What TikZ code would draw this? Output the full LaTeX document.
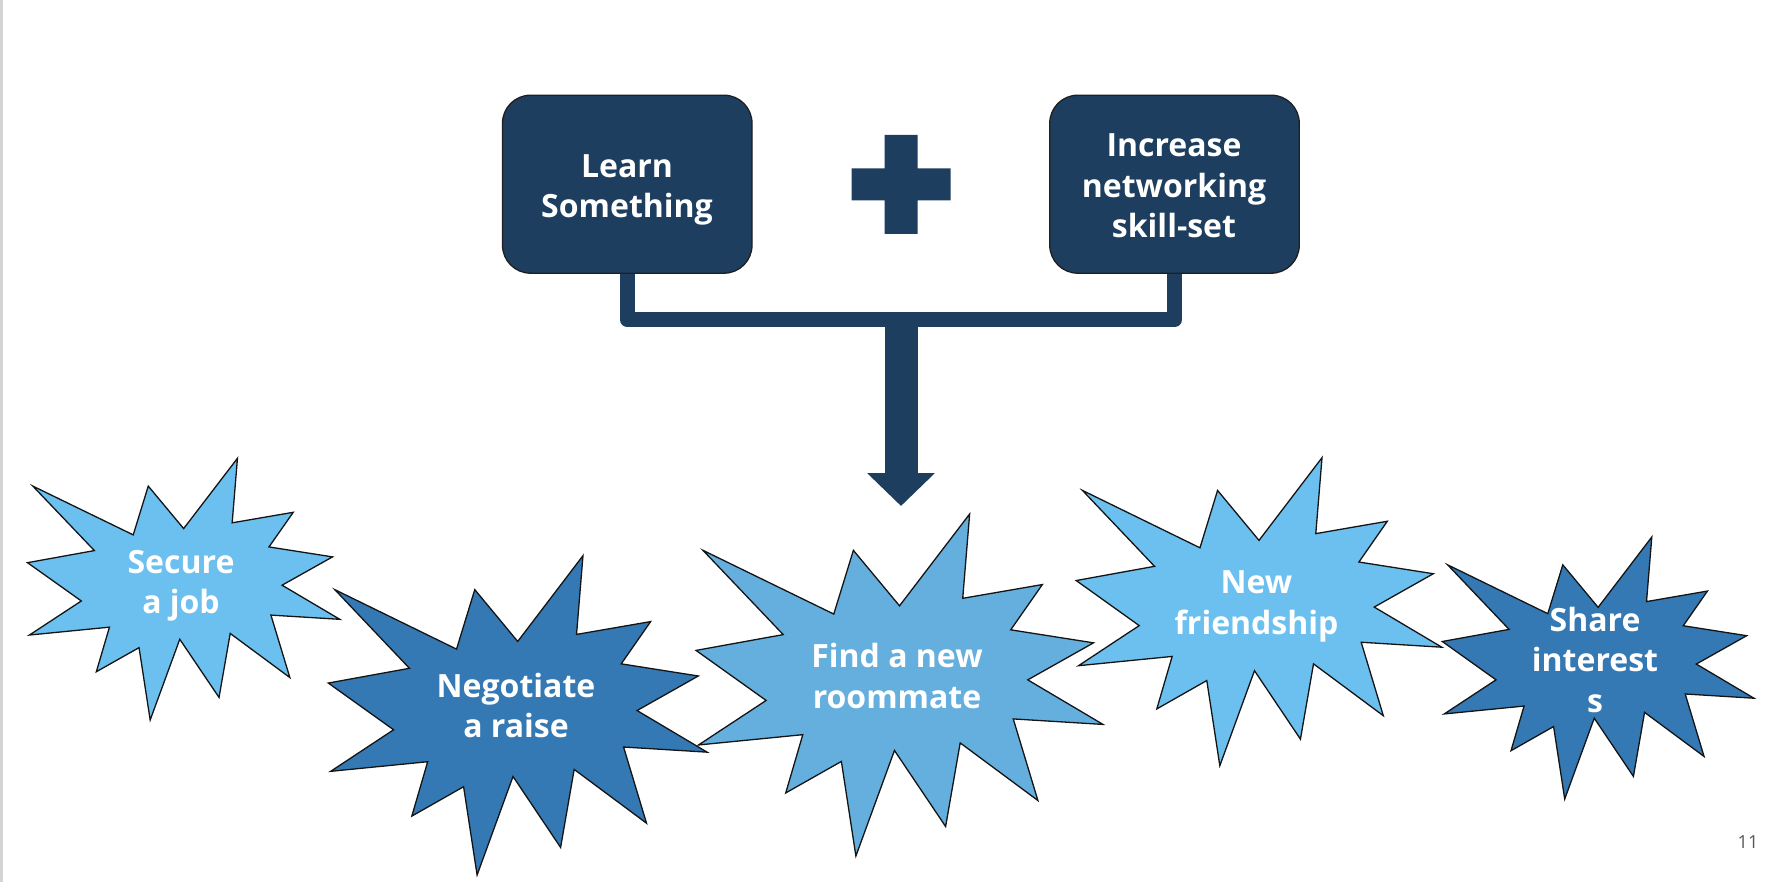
\documentclass[tikz,border=0pt]{standalone}
\usepackage{fontspec}
\setmainfont{Open Sans}
\usetikzlibrary{arrows.meta}
\definecolor{navy}{HTML}{1D3E5E}
\definecolor{lightblue}{HTML}{6CC0F0}
\definecolor{midblue}{HTML}{64AFDE}
\definecolor{darkblue}{HTML}{3479B3}
\definecolor{pagegray}{HTML}{D4D4D4}
\newcommand\burst[5]{%
  \begin{scope}[shift={(#1,#2)}, xscale=#3/216, yscale=#4/216]
    \draw[seal, fill=#5] (108,58) -- (145.22,0) -- (141.55,53.25) -- (183.80,44.57)
      -- (167.02,73.15) -- (210.97,81.37) -- (176.07,104.75) -- (216,132.90)
      -- (168.37,129.42) -- (181.45,180.95) -- (140.20,144.57) -- (132.47,197.37)
      -- (105.32,149.35) -- (84.85,216) -- (77.15,156.27) -- (47.62,176.17)
      -- (56.67,139.37) -- (1.35,145.87) -- (37.22,117.75) -- (0,86.15)
      -- (46.27,76.17) -- (3.70,22.95) -- (73.12,63.20) -- (83.52,22.95) -- cycle;
  \end{scope}}
\begin{document}
\begin{tikzpicture}[x=1pt,y=-1pt,
  seal/.style={draw=black!92, line width=1.3pt, line join=miter},
  boxnode/.style={draw=black!88, fill=navy, line width=1.3pt, rounded corners=28pt,
    minimum width=249.5pt, minimum height=178pt, inner sep=0pt},
  txt/.style={text=white, font=\bfseries\fontsize{32}{40.5}\selectfont, align=center, inner sep=0pt},
  conn/.style={draw=navy, line width=15pt, line join=round},
  bigarrow/.style={draw=navy, line width=33pt, -{Triangle[width=66pt,length=33pt]}}
]
\useasboundingbox (0,0) rectangle (1784,882);
\fill[pagegray] (0,0) rectangle (2.5,882);

% top boxes
\node[boxnode] (learn) at (627.25,184.2) {};
\node[boxnode] (increase) at (1174.5,184.2) {};
\node[txt] (learntxt) at (627,189.6) {\strut Learn\\Something\strut};
\node[txt] (increasetxt) at (1174,189.2) {\strut Increase\\networking\\skill-set\strut};

% plus sign
\fill[navy] (884.5,135) rectangle (917.5,234) (851.5,168.5) rectangle (950.5,200.5);

% connector and arrow
\coordinate (jn) at (901,319.8);
\coordinate (atip) at (901,506);
\draw[conn] (learn.south) |- (jn) -| (increase.south);
\draw[bigarrow] (jn) -- (atip);

% starbursts
\burst{27.5}{458.3}{312.3}{261.7}{lightblue}
\burst{328.3}{555.7}{378.8}{319.3}{darkblue}
\burst{696}{514}{407}{342}{midblue}
\burst{1076.2}{457.7}{365.6}{308}{lightblue}
\burst{1442.3}{537}{311.6}{262}{darkblue}

\node[txt] (job) at (181,585.4) {\strut Secure\\a job\strut};
\node[txt] (raise) at (516,709.6) {\strut Negotiate\\a raise\strut};
\node[txt] (room) at (897,679.9) {\strut Find a new\\roommate\strut};
\node[txt] (friend) at (1256.5,606) {\strut New\\friendship\strut};
\node[txt] (share) at (1595,663.8) {\strut Share\\interest\\s\strut};

% page number
\node[anchor=base, text=black!65, font=\fontsize{18}{20}\selectfont, inner sep=0pt] (pnum) at (1748,848.3) {11};
\end{tikzpicture}
\end{document}
